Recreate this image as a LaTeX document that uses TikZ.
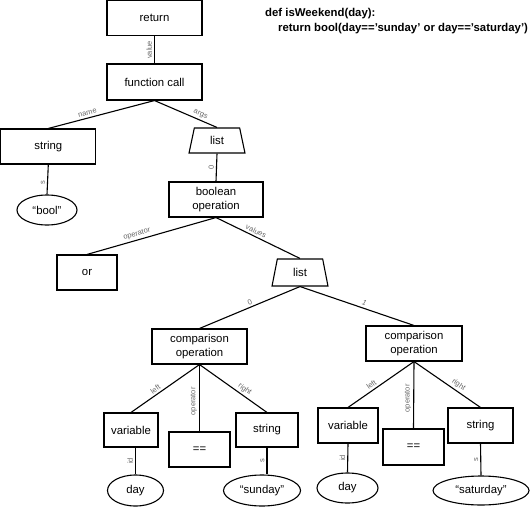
\documentclass[tikz,border=0pt]{standalone}
\usepackage{fontspec}
\setmainfont{Liberation Sans}
\newfontfamily\lblfont[Kerning=Off,Ligatures=NoCommon]{Liberation Sans}
\usetikzlibrary{shapes.geometric}
\begin{document}
\begin{tikzpicture}[x=1bp,y=-1bp,
  txt/.style={font=\fontsize{11.4}{13.6}\selectfont},
  box/.style={txt, draw, line width=1.1bp, rectangle, inner sep=0pt, align=center},
  oval/.style={txt, draw, line width=1.1bp, ellipse, inner sep=0pt},
  trap/.style={txt, draw, line width=1.1bp, trapezium, trapezium stretches=true,
    trapezium left angle=79, trapezium right angle=79, inner sep=0pt},
  edge/.style={line width=1.1bp},
  lbl/.style={font=\lblfont\fontsize{7.5}{8}\selectfont, text=black!60, inner sep=2bp},
  slbl/.style={lbl, sloped, above},
  vlbl/.style={lbl, rotate=90, anchor=south},
  code/.style={font=\fontsize{11.4}{13.6}\selectfont\bfseries, inner sep=0pt, anchor=west}
]
\useasboundingbox (0,0) rectangle (530,507);

% code
\node[code] (c1) at (265,14) {def isWeekend(day):};
\node[code] (c2) at (278,29) {return bool(day=='sunday' or day=='saturday')};

% nodes
\node[box, minimum width=95bp, minimum height=35bp] (ret) at (154.5,18.2) {return};
\node[box, minimum width=95bp, minimum height=36bp] (fcall) at (154.5,82) {function call};
\node[box, minimum width=95bp, minimum height=35bp] (str0) at (48.3,146.5) {string};
\node[trap, minimum width=56bp, minimum height=25bp] (list1) at (217,140.5) {list};
\node[oval, minimum width=60bp, minimum height=30bp] (bool) at (47,210) {``bool''};
\node[box, minimum width=94bp, minimum height=35bp] (boolop) at (216,199.5) {boolean\\operation};
\node[box, minimum width=60bp, minimum height=35bp] (or) at (87,272.5) {or};
\node[trap, minimum width=56bp, minimum height=27bp] (list2) at (300,272.5) {list};
\node[box, minimum width=95bp, minimum height=35bp] (comp1) at (199.5,346.5) {comparison\\operation};
\node[box, minimum width=96bp, minimum height=35bp] (comp2) at (414,343.5) {comparison\\operation};
\node[box, minimum width=54bp, minimum height=34bp] (var1) at (131,430) {variable};
\node[box, minimum width=61bp, minimum height=35bp] (eq1) at (199.5,449.5) {==};
\node[box, minimum width=62bp, minimum height=34bp] (str1) at (267,430) {string};
\node[oval, minimum width=56bp, minimum height=31bp] (day1) at (135.5,490.5) {day};
\node[oval, minimum width=77bp, minimum height=31bp] (sun) at (262,490.5) {``sunday''};
\node[box, minimum width=60bp, minimum height=35bp] (var2) at (348,425.5) {variable};
\node[box, minimum width=61bp, minimum height=36bp] (eq2) at (413.5,447) {==};
\node[box, minimum width=65bp, minimum height=35bp] (str2) at (480.5,425.5) {string};
\node[oval, minimum width=61bp, minimum height=30bp] (day2) at (347.5,488) {day};
\node[oval, minimum width=96bp, minimum height=29bp] (sat) at (481,490.5) {``saturday''};

% edges
\draw[edge] (ret.south) -- node[vlbl] {value} (fcall.north);
\draw[edge] (fcall.south) -- node[slbl, pos=0.62] {name} (str0.north);
\draw[edge] (fcall.south) -- node[slbl, pos=0.7] {args} (list1.north);
\draw[edge] (str0.south) -- node[vlbl, pos=0.6] {s} (bool.north);
\draw[edge] (list1.south) -- node[vlbl] {0} (boolop.north);
\draw[edge] (boolop.south) -- node[slbl, pos=0.6] {operator} (or.north);
\draw[edge] (boolop.south) -- node[slbl, pos=0.45] {values} (list2.north);
\draw[edge] (list2.south) -- node[slbl, pos=0.48] {0} (comp1.north);
\draw[edge] (list2.south) -- node[slbl, pos=0.55] {\itshape 1} (comp2.north);

\draw[edge] (comp1.south) -- node[slbl, pos=0.6] {left} (var1.north);
\draw[edge] (comp1.south) -- node[vlbl, pos=0.55] {operator} (eq1.north);
\draw[edge] (comp1.south) -- node[slbl, pos=0.62] {right} (str1.north);
\draw[edge] (var1.south -| day1.north) -- node[vlbl] {id} (day1.north);
\draw[edge] (str1.south) -- node[vlbl] {s} (str1.south |- sun.north);

\draw[edge] (comp2.south) -- node[slbl, pos=0.6] {left} (var2.north);
\draw[edge] (comp2.south) -- node[vlbl, pos=0.55] {operator} (eq2.north);
\draw[edge] (comp2.south) -- node[slbl, pos=0.62] {right} (str2.north);
\draw[edge] (var2.south) -- node[vlbl] {id} (day2.north);
\draw[edge] (str2.south) -- node[vlbl] {s} (sat.north);
\end{tikzpicture}
\end{document}
